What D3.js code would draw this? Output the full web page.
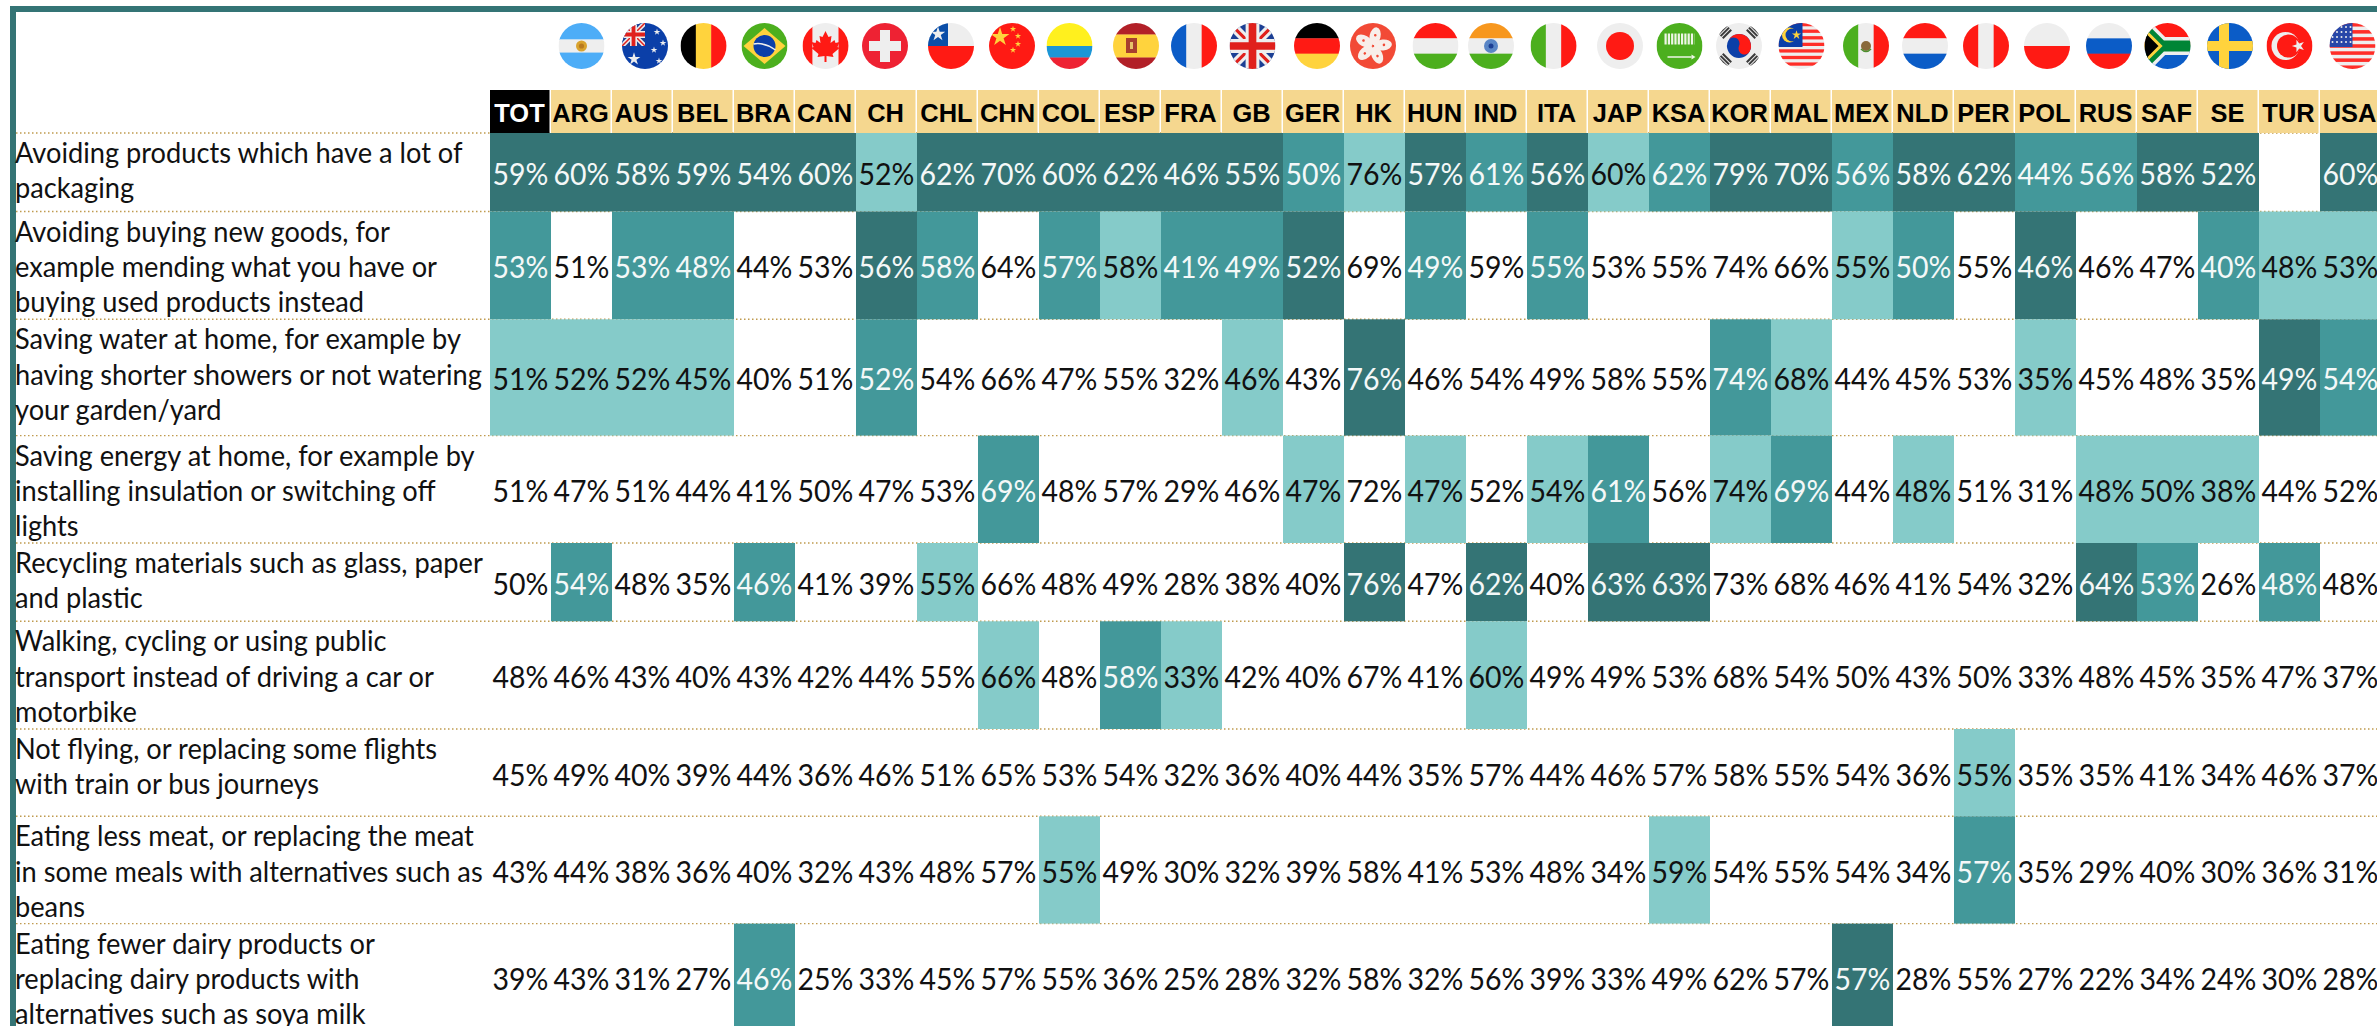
<!DOCTYPE html>
<html>
<head>
<meta charset="utf-8">
<title>Sustainable behaviours by country</title>
<script src="https://cdn.jsdelivr.net/npm/d3@7"></script>
<style>
    html, body { margin: 0; padding: 0; background: #fff; overflow: hidden; }
    svg { display: block; }
    .label { font-family: Lato, "Open Sans", sans-serif; font-size: 28.5px; fill: #111; }
    .value { font-family: Lato, "Open Sans", sans-serif; font-size: 30px; text-anchor: middle; }
    .code { font-family: "Liberation Sans", Arial, sans-serif; font-size: 26.5px; font-weight: bold; text-anchor: middle; }
</style>
</head>
<body>
<svg id="chart" width="2377" height="1026"></svg>
<script>
const columns = ["TOT", "ARG", "AUS", "BEL", "BRA", "CAN", "CH", "CHL", "CHN", "COL", "ESP", "FRA", "GB", "GER", "HK", "HUN",
    "IND", "ITA", "JAP", "KSA", "KOR", "MAL", "MEX", "NLD", "PER", "POL", "RUS", "SAF", "SE", "TUR", "USA"];

const rowLabels = [
    ["Avoiding products which have a lot of", "packaging"],
    ["Avoiding buying new goods, for", "example mending what you have or", "buying used products instead"],
    ["Saving water at home, for example by", "having shorter showers or not watering", "your garden/yard"],
    ["Saving energy at home, for example by", "installing insulation or switching off", "lights"],
    ["Recycling materials such as glass, paper", "and plastic"],
    ["Walking, cycling or using public", "transport instead of driving a car or", "motorbike"],
    ["Not flying, or replacing some flights", "with train or bus journeys"],
    ["Eating less meat, or replacing the meat", "in some meals with alternatives such as", "beans"],
    ["Eating fewer dairy products or", "replacing dairy products with", "alternatives such as soya milk"]
];

// percent per country, same order as columns
const packaging = [59, 60, 58, 59, 54, 60, 52, 62, 70, 60, 62, 46, 55, 50, 76, 57, 61, 56, 60, 62, 79, 70, 56, 58, 62, 44, 56, 58, 52, null, 60];
const newGoods = [53, 51, 53, 48, 44, 53, 56, 58, 64, 57, 58, 41, 49, 52, 69, 49, 59, 55, 53, 55, 74, 66, 55, 50, 55, 46, 46, 47, 40, 48, 53];
const water = [51, 52, 52, 45, 40, 51, 52, 54, 66, 47, 55, 32, 46, 43, 76, 46, 54, 49, 58, 55, 74, 68, 44, 45, 53, 35, 45, 48, 35, 49, 54];
const energy = [51, 47, 51, 44, 41, 50, 47, 53, 69, 48, 57, 29, 46, 47, 72, 47, 52, 54, 61, 56, 74, 69, 44, 48, 51, 31, 48, 50, 38, 44, 52];
const recycling = [50, 54, 48, 35, 46, 41, 39, 55, 66, 48, 49, 28, 38, 40, 76, 47, 62, 40, 63, 63, 73, 68, 46, 41, 54, 32, 64, 53, 26, 48, 48];
const transport = [48, 46, 43, 40, 43, 42, 44, 55, 66, 48, 58, 33, 42, 40, 67, 41, 60, 49, 49, 53, 68, 54, 50, 43, 50, 33, 48, 45, 35, 47, 37];
const flying = [45, 49, 40, 39, 44, 36, 46, 51, 65, 53, 54, 32, 36, 40, 44, 35, 57, 44, 46, 57, 58, 55, 54, 36, 55, 35, 35, 41, 34, 46, 37];
const meat = [43, 44, 38, 36, 40, 32, 43, 48, 57, 55, 49, 30, 32, 39, 58, 41, 53, 48, 34, 59, 54, 55, 54, 34, 57, 35, 29, 40, 30, 36, 31];
const dairy = [39, 43, 31, 27, 46, 25, 33, 45, 57, 55, 36, 25, 28, 32, 58, 32, 56, 39, 33, 49, 62, 57, 57, 28, 55, 27, 22, 34, 24, 30, 28];
const rowValues = [packaging, newGoods, water, energy, recycling, transport, flying, meat, dairy];

// highlight level of each cell: 0 none, 1 light, 2 mid, 3 dark
const packagingShade = [3, 3, 3, 3, 3, 3, 1, 3, 3, 3, 3, 3, 3, 2, 1, 3, 2, 3, 1, 2, 3, 3, 2, 3, 3, 2, 2, 3, 3, 0, 3];
const newGoodsShade = [2, 0, 2, 2, 0, 0, 3, 2, 0, 2, 1, 2, 2, 3, 0, 2, 0, 2, 0, 0, 0, 0, 1, 2, 0, 3, 0, 0, 2, 1, 1];
const waterShade = [1, 1, 1, 1, 0, 0, 2, 0, 0, 0, 0, 0, 1, 0, 3, 0, 0, 0, 0, 0, 2, 1, 0, 0, 0, 1, 0, 0, 0, 3, 2];
const energyShade = [0, 0, 0, 0, 0, 0, 0, 0, 2, 0, 0, 0, 0, 1, 0, 1, 0, 1, 2, 0, 1, 2, 0, 1, 0, 0, 1, 1, 1, 0, 0];
const recyclingShade = [0, 2, 0, 0, 2, 0, 0, 1, 0, 0, 0, 0, 0, 0, 3, 0, 3, 0, 3, 3, 0, 0, 0, 0, 0, 0, 3, 2, 0, 2, 0];
const transportShade = [0, 0, 0, 0, 0, 0, 0, 0, 1, 0, 2, 1, 0, 0, 0, 0, 1, 0, 0, 0, 0, 0, 0, 0, 0, 0, 0, 0, 0, 0, 0];
const flyingShade = [0, 0, 0, 0, 0, 0, 0, 0, 0, 0, 0, 0, 0, 0, 0, 0, 0, 0, 0, 0, 0, 0, 0, 0, 1, 0, 0, 0, 0, 0, 0];
const meatShade = [0, 0, 0, 0, 0, 0, 0, 0, 0, 1, 0, 0, 0, 0, 0, 0, 0, 0, 0, 1, 0, 0, 0, 0, 2, 0, 0, 0, 0, 0, 0];
const dairyShade = [0, 0, 0, 0, 2, 0, 0, 0, 0, 0, 0, 0, 0, 0, 0, 0, 0, 0, 0, 0, 0, 0, 3, 0, 0, 0, 0, 0, 0, 0, 0];
const rowShades = [packagingShade, newGoodsShade, waterShade, energyShade, recyclingShade, transportShade, flyingShade, meatShade, dairyShade];

const shadeColors = ["#fff", "#85cbc9", "#43989a", "#347475"];
const rowHeights = [78.5, 107.8, 116.3, 107.4, 78.3, 107.7, 87.3, 107.3, 107];
const headerTop = 90, headerBottom = 133;

const svg = d3.select("#chart");

const x = d3.scaleBand().domain(columns).range([490, 490 + 61 * columns.length]);
const rowEdges = [headerBottom, ...d3.cumsum(rowHeights).map(h => h + headerBottom)];
const y = d3.scaleOrdinal().domain(d3.range(rowLabels.length)).range(rowEdges);
const shadeColor = d3.scaleOrdinal().domain([0, 1, 2, 3]).range(shadeColors);

// frame
svg.append("rect").attr("x", 10).attr("y", 6).attr("width", 2367).attr("height", 6).attr("fill", "#347475");
svg.append("rect").attr("x", 10).attr("y", 6).attr("width", 6).attr("height", 1020).attr("fill", "#347475");

// dotted row rules, the filled cells sit on top of them
svg.append("g").selectAll("line")
    .data(rowEdges)
    .join("line")
    .attr("x1", 16)
    .attr("x2", 2377)
    .attr("y1", d => d)
    .attr("y2", d => d)
    .attr("stroke", "#bf9a4e")
    .attr("stroke-width", 1.4)
    .attr("stroke-dasharray", "1.5 2.5");

// header row
const header = svg.append("g").selectAll("g")
    .data(columns)
    .join("g");

header.append("rect")
    .attr("x", d => x(d))
    .attr("y", headerTop)
    .attr("width", x.bandwidth() - 1.5)
    .attr("height", headerBottom - headerTop)
    .attr("fill", d => d === "TOT" ? "#000" : "#f5d78f");

header.append("text")
    .attr("class", "code")
    .attr("transform", d => `translate(${x(d) + x.bandwidth() / 2 - 1}, 121.5) scale(0.96, 1)`)
    .attr("fill", d => d === "TOT" ? "#fff" : "#000")
    .text(d => d);

// row labels
rowLabels.forEach((lines, r) => {
    svg.append("g").selectAll("text")
        .data(lines)
        .join("text")
        .attr("class", "label")
        .attr("transform", (d, i) => `translate(15, ${y(r) + 30 + i * 35.3}) scale(0.955, 1)`)
        .text(d => d);
});

// cells
const cells = rowValues.flatMap((vals, r) => vals.map((v, c) => ({
    row: r,
    col: columns[c],
    value: v,
    shade: rowShades[r][c]
})));

svg.append("g").selectAll("rect")
    .data(cells.filter(d => d.shade > 0))
    .join("rect")
    .attr("x", d => x(d.col))
    .attr("y", d => y(d.row))
    .attr("width", x.bandwidth())
    .attr("height", d => rowHeights[d.row])
    .attr("fill", d => shadeColor(d.shade));

svg.append("g").selectAll("text")
    .data(cells.filter(d => d.value !== null))
    .join("text")
    .attr("class", "value")
    .attr("transform", d => `translate(${x(d.col) + x.bandwidth() / 2}, ${y(d.row) + rowHeights[d.row] / 2 + 13}) scale(0.95, 1)`)
    .attr("fill", d => d.shade >= 2 ? "#f4f8f8" : "#111")
    .text(d => `${d.value}%`);

// flags: simplified little drawings in a 46px circle, centred on 0,0
const R = 23;
const RED = "#ff1a14", BLUE = "#0b5cc7", GREEN = "#4caf1e", YELLOW = "#ffd33d", PALE = "#eeeeee", DARKRED = "#b22028";

svg.append("defs").append("clipPath").attr("id", "flag-clip")
    .append("circle").attr("r", R);

function box(g, x0, y0, w, h, fill) {
    return g.append("rect").attr("x", x0).attr("y", y0).attr("width", w).attr("height", h).attr("fill", fill);
}

function dot(g, cx, cy, r, fill) {
    return g.append("circle").attr("cx", cx).attr("cy", cy).attr("r", r).attr("fill", fill);
}

function star(g, cx, cy, size, fill, rotate = 0) {
    return g.append("path")
        .attr("d", d3.symbol(d3.symbolStar, size)())
        .attr("transform", `translate(${cx}, ${cy}) rotate(${rotate})`)
        .attr("fill", fill);
}

// bands are [colour, weight] pairs, stacked across the flag
function hBands(g, bands) {
    const total = d3.sum(bands, d => d[1]);
    let pos = -R;
    bands.forEach(([fill, w]) => {
        const h = w / total * 2 * R;
        box(g, -R, pos, 2 * R, h + 0.3, fill);
        pos += h;
    });
}

function vBands(g, bands) {
    const total = d3.sum(bands, d => d[1]);
    let pos = -R;
    bands.forEach(([fill, w]) => {
        const wd = w / total * 2 * R;
        box(g, pos, -R, wd + 0.3, 2 * R, fill);
        pos += wd;
    });
}

function unionJack(g, x0, y0, w, h) {
    const s = g.append("svg").attr("x", x0).attr("y", y0).attr("width", w).attr("height", h)
        .attr("viewBox", "0 0 60 60");
    box(s, 0, 0, 60, 60, "#1c3f94");
    s.append("path").attr("d", "M0,0L60,60M60,0L0,60").attr("stroke", PALE).attr("stroke-width", 12);
    s.append("path").attr("d", "M0,0L60,60M60,0L0,60").attr("stroke", "#e0201c").attr("stroke-width", 4);
    s.append("path").attr("d", "M30,0V60M0,30H60").attr("stroke", PALE).attr("stroke-width", 18);
    s.append("path").attr("d", "M30,0V60M0,30H60").attr("stroke", "#e0201c").attr("stroke-width", 10);
}

const flagPainters = {
    ARG(g) {
        hBands(g, [["#4dadf7", 5], [PALE, 4], ["#4dadf7", 5]]);
        dot(g, 0, 0, 5.5, "#d9a32e");
        dot(g, 0, 0, 2.6, "#b97a1e");
    },
    AUS(g) {
        box(g, -R, -R, 2 * R, 2 * R, "#0b3fa8");
        unionJack(g, -R, -R, 23, 23);
        star(g, -11, 13, 50, PALE);
        star(g, 12, -14, 14, PALE);
        star(g, 18, -3, 14, PALE);
        star(g, 9, 4, 14, PALE);
        star(g, 14, 15, 14, PALE);
    },
    BEL(g) { vBands(g, [["#000", 1], [YELLOW, 1], [RED, 1]]); },
    BRA(g) {
        box(g, -R, -R, 2 * R, 2 * R, GREEN);
        g.append("path").attr("d", "M0,-18L21,0L0,18L-21,0Z").attr("fill", YELLOW);
        dot(g, 0, 0, 11, "#0b3fa8");
        g.append("path").attr("d", "M-11,-2Q0,-4 11,4").attr("stroke", PALE).attr("stroke-width", 1.5).attr("fill", "none");
    },
    CAN(g) {
        vBands(g, [[RED, 1], [PALE, 2.6], [RED, 1]]);
        g.append("path")
            .attr("d", "M0,-15L3,-9L6,-10L5,-3L9,-6L10,-3L14,-4L12,1L14,2L7,8L8,11L1,10L1,16L-1,16L-1,10L-8,11L-7,8L-14,2L-12,1L-14,-4L-10,-3L-9,-6L-5,-3L-6,-10L-3,-9Z")
            .attr("fill", RED);
    },
    CH(g) {
        box(g, -R, -R, 2 * R, 2 * R, "#ee2233");
        box(g, -16, -5, 32, 10, PALE);
        box(g, -5, -16, 10, 32, PALE);
    },
    CHL(g) {
        hBands(g, [[PALE, 1], [RED, 1]]);
        box(g, -R, -R, 20, 23, "#0b4ea8");
        star(g, -13, -12, 65, PALE);
    },
    CHN(g) {
        box(g, -R, -R, 2 * R, 2 * R, RED);
        star(g, -12, -9, 110, YELLOW);
        star(g, 1, -17, 12, YELLOW);
        star(g, 6, -10, 12, YELLOW);
        star(g, 6, -2, 12, YELLOW);
        star(g, 1, 4, 12, YELLOW);
    },
    COL(g) { hBands(g, [["#fff01e", 2], ["#1c96d6", 1], ["#ee2233", 1]]); },
    ESP(g) {
        hBands(g, [[DARKRED, 1], [YELLOW, 2], [DARKRED, 1]]);
        box(g, -10, -8, 11, 15, "#a8402e");
        box(g, -6, -4, 3, 7, "#e6c36a");
    },
    FRA(g) { vBands(g, [[BLUE, 1], [PALE, 1], [RED, 1]]); },
    GB(g) { unionJack(g, -R, -R, 2 * R, 2 * R); },
    GER(g) { hBands(g, [["#000", 1], [RED, 1], [YELLOW, 1]]); },
    HK(g) {
        box(g, -R, -R, 2 * R, 2 * R, "#f24a36");
        d3.range(5).forEach(i => {
            g.append("ellipse").attr("cy", -10).attr("rx", 5.5).attr("ry", 9)
                .attr("transform", `rotate(${i * 72 + 12})`).attr("fill", "#f8eeea");
            dot(g, 0, -11, 1.3, "#f24a36").attr("transform", `rotate(${i * 72 + 12})`);
        });
    },
    HUN(g) { hBands(g, [[RED, 1], [PALE, 1], [GREEN, 1]]); },
    IND(g) {
        hBands(g, [["#f7971e", 1], [PALE, 1], [GREEN, 1]]);
        dot(g, 0, 0, 7, "#5a86c6");
        dot(g, 0, 0, 2.5, "#1c3f94");
    },
    ITA(g) { vBands(g, [[GREEN, 1], [PALE, 1], [RED, 1]]); },
    JAP(g) {
        box(g, -R, -R, 2 * R, 2 * R, PALE);
        dot(g, 0, 0, 14, RED);
    },
    KSA(g) {
        box(g, -R, -R, 2 * R, 2 * R, GREEN);
        g.append("path").attr("d", "M-15,-7H15").attr("stroke", "#eef5e6").attr("stroke-width", 11).attr("stroke-dasharray", "2.2 1.1");
        g.append("path").attr("d", "M-12,11H12").attr("stroke", "#eef5e6").attr("stroke-width", 1.4);
        g.append("path").attr("d", "M12,8.5L16,11L12,13.5Z").attr("fill", "#eef5e6");
    },
    KOR(g) {
        box(g, -R, -R, 2 * R, 2 * R, PALE);
        const t = g.append("g").attr("transform", "rotate(25)");
        dot(t, 0, 0, 12, "#0b3fa8");
        t.append("path").attr("d", "M-12,0A12,12 0 0 1 12,0A6,6 0 0 1 0,0A6,6 0 0 0 -12,0Z").attr("fill", RED);
        [-45, 45, 135, 225].forEach(a => {
            const bars = g.append("g").attr("transform", `rotate(${a})`);
            [-24, -21, -18].forEach(off => box(bars, -6, off, 12, 2, "#3a3a3a"));
        });
    },
    MAL(g) {
        box(g, -R, -R, 2 * R, 2 * R, PALE);
        d3.range(7).forEach(i => box(g, -R, -R + i * 46 / 7, 2 * R, 46 / 14, "#ff2e28"));
        box(g, -R, -R, 24, 24, "#0b3fa8");
        dot(g, -12, -11, 7.5, YELLOW);
        dot(g, -9.5, -11, 6.5, "#0b3fa8");
        star(g, -5, -11, 26, YELLOW);
    },
    MEX(g) {
        vBands(g, [[GREEN, 1], [PALE, 1], [RED, 1]]);
        dot(g, 0, 0, 5, "#8a6a3c");
        g.append("path").attr("d", "M-5,3Q0,8 5,3").attr("stroke", "#4c8f2e").attr("stroke-width", 1.6).attr("fill", "none");
    },
    NLD(g) { hBands(g, [[RED, 1], [PALE, 1], [BLUE, 1]]); },
    PER(g) { vBands(g, [[RED, 1], [PALE, 1], [RED, 1]]); },
    POL(g) { hBands(g, [[PALE, 1], [RED, 1]]); },
    RUS(g) { hBands(g, [[PALE, 1], [BLUE, 1], [RED, 1]]); },
    SAF(g) {
        hBands(g, [[RED, 1], [BLUE, 1]]);
        const y3 = "M-32,-26L-6,0H30M-32,26L-6,0";
        g.append("path").attr("d", y3).attr("fill", "none").attr("stroke", PALE).attr("stroke-width", 18);
        g.append("path").attr("d", y3).attr("fill", "none").attr("stroke", "#008536").attr("stroke-width", 11);
        g.append("path").attr("d", "M-24,-17L-7,0L-24,17Z").attr("fill", "#000").attr("stroke", YELLOW).attr("stroke-width", 3);
    },
    SE(g) {
        box(g, -R, -R, 2 * R, 2 * R, BLUE);
        box(g, -R, -5, 2 * R, 10, YELLOW);
        box(g, -11, -R, 10, 2 * R, YELLOW);
    },
    TUR(g) {
        box(g, -R, -R, 2 * R, 2 * R, RED);
        dot(g, -4, 0, 14, PALE);
        dot(g, -1, 0, 11.5, RED);
        star(g, 9, 0, 50, PALE, -18);
    },
    USA(g) {
        box(g, -R, -R, 2 * R, 2 * R, PALE);
        d3.range(7).forEach(i => box(g, -R, -R + i * 46 / 6.5, 2 * R, 46 / 13, "#ff2e28"));
        box(g, -R, -R, 23, 24, "#2846a8");
        d3.range(4).forEach(r => d3.range(5).forEach(c => dot(g, -20 + c * 4.5, -19 + r * 5, 1, PALE)));
    }
};

// the flags do not sit exactly over their columns in the original
const flagNudge = { AUS: 2.5, CH: -1.5, CHL: 3.5, CHN: 3.5, ESP: 5.5, FRA: 2.5, GER: 3.5, HK: -1.5, IND: -5.5, ITA: -4, JAP: 1.5, KOR: -1.5, MEX: 3.5, NLD: 1.5, PER: 1.5, POL: 1.5, RUS: 2.5, SE: 1.5, USA: 2 };

svg.append("g").selectAll("g")
    .data(columns.filter(d => flagPainters[d]))
    .join("g")
    .attr("transform", d => `translate(${x(d) + x.bandwidth() / 2 + (flagNudge[d] || 0)}, 46)`)
    .attr("clip-path", "url(#flag-clip)")
    .each(function (d) { flagPainters[d](d3.select(this)); });
</script>
</body>
</html>
